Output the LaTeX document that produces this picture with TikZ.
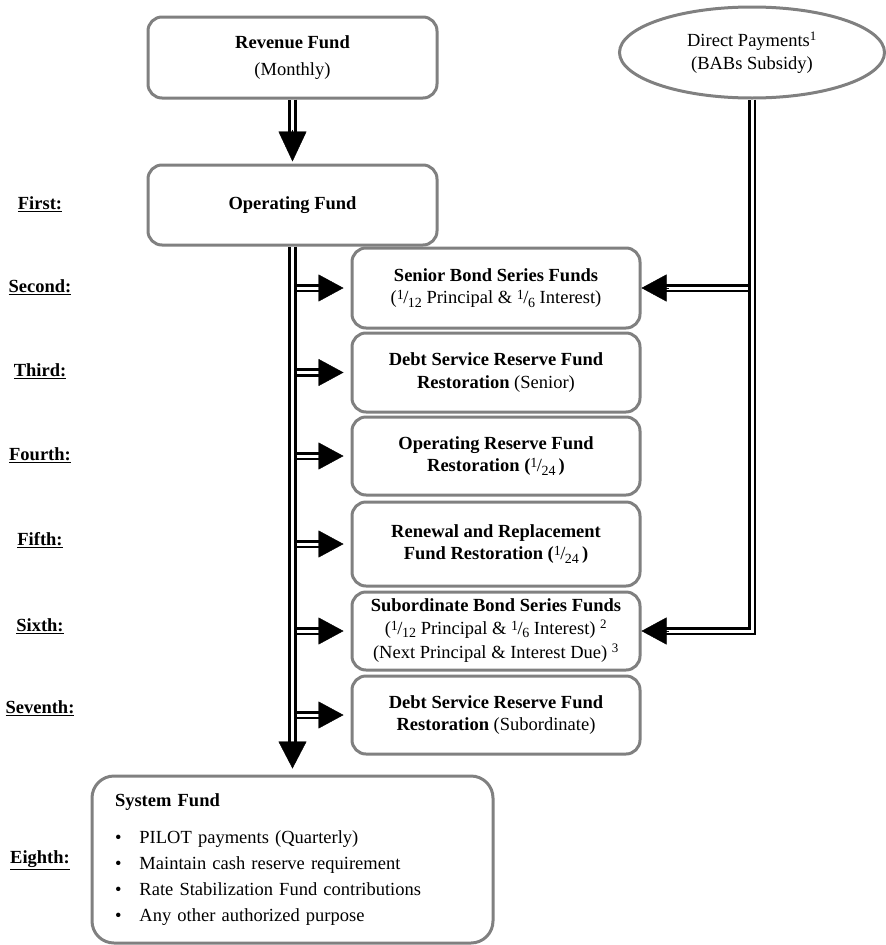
\documentclass[tikz,border=0pt]{standalone}
\usepackage{fontspec}
\setmainfont{Liberation Serif}
\usetikzlibrary{arrows.meta,shapes.geometric}
\newcommand{\slfrac}[2]{{\mdseries\raisebox{4pt}{\fontsize{14}{14}\selectfont#1}\kern-0.5pt/\kern-0.5pt\raisebox{-3.5pt}{\fontsize{14}{14}\selectfont#2}}}

\begin{document}
\begin{tikzpicture}[x=1pt, y=-1pt,
  every node/.style={font=\fontsize{18.5}{22.5}\selectfont},
  fund/.style={draw=black!50, line width=3pt, rounded corners=14pt, align=center, inner sep=2pt},
  tier/.style={font=\fontsize{18.5}{22.5}\selectfont\bfseries},
  pipe/.style={draw=black, line width=2.6pt, double=white, double distance=3pt},
  head/.style={-{Triangle[length=25pt,width=27pt]}, line width=0.4pt},
  bighead/.style={-{Triangle[length=30pt,width=28pt]}, line width=0.4pt}]
  \useasboundingbox (0,0) rectangle (886,945);

  \node[fund, minimum width=289pt, minimum height=81pt] (rev) at (292.5,57.5) {\textbf{Revenue Fund}\\[4pt](Monthly)};
  \node[fund, minimum width=289pt, minimum height=80pt] (opf) at (292.5,205) {\textbf{Operating Fund}};
  \node[draw=black!50, line width=3pt, ellipse, minimum width=265pt, minimum height=91pt, inner sep=0pt, align=center] (dpay) at (752,52.5) {Direct Payments\textsuperscript{1}\\(BABs Subsidy)};

  \node[fund, minimum width=288pt, minimum height=80pt] (sbsf) at (496,288) {\textbf{Senior Bond Series Funds}\\(\slfrac{1}{12} Principal \& \slfrac{1}{6} Interest)};
  \node[fund, minimum width=288pt, minimum height=79pt] (dsrf) at (496,372.5) {\textbf{Debt Service Reserve Fund}\\\textbf{Restoration} (Senior)};
  \node[fund, minimum width=288pt, minimum height=78pt] (orf) at (496,456) {\textbf{Operating Reserve Fund}\\\textbf{Restoration (\slfrac{1}{24}\,)}};
  \node[fund, minimum width=288pt, minimum height=84pt] (rrf) at (496,544) {\textbf{Renewal and Replacement}\\\textbf{Fund Restoration (\slfrac{1}{24}\,)}};
  \node[fund, minimum width=288pt, minimum height=78pt] (subf) at (496,631) {\textbf{Subordinate Bond Series Funds}\\(\slfrac{1}{12} Principal \& \slfrac{1}{6} Interest) \textsuperscript{2}\\[2pt](Next Principal \& Interest Due) \textsuperscript{3}};
  \node[fund, minimum width=288pt, minimum height=78pt] (dsrs) at (496,715) {\textbf{Debt Service Reserve Fund}\\\textbf{Restoration} (Subordinate)};

  \node[fund, align=left, text width=355pt, minimum height=167pt, inner xsep=23pt, rounded corners=22pt] (sysf) at (292.5,859.5) {\textbf{System Fund}\\[14.5pt]
    \textbullet\hspace{18pt}PILOT payments (Quarterly)\\[3.5pt]
    \textbullet\hspace{18pt}Maintain cash reserve requirement\\[3.5pt]
    \textbullet\hspace{18pt}Rate Stabilization Fund contributions\\[3.5pt]
    \textbullet\hspace{18pt}Any other authorized purpose};

  \node[tier] (t1) at (40,204) {\underline{First:}};
  \node[tier] (t2) at (40,287) {\underline{Second:}};
  \node[tier] (t3) at (40,371) {\underline{Third:}};
  \node[tier] (t4) at (40,455) {\underline{Fourth:}};
  \node[tier] (t5) at (40,540) {\underline{Fifth:}};
  \node[tier] (t6) at (40,626) {\underline{Sixth:}};
  \node[tier] (t7) at (40,708) {\underline{Seventh:}};
  \node[tier] (t8) at (40,860) {\underline{Eighth:}};

  \coordinate (trunk) at (296.6,0);
  \coordinate (feed) at (747.9,0);

  \draw[pipe, shorten >=30pt] (rev) -- (opf);
  \draw[bighead] ([yshift=34pt]opf.north) -- ([yshift=2pt]opf.north);
  \draw[pipe, shorten >=31pt] (opf) -- (sysf);
  \draw[bighead, -{Triangle[length=27pt,width=28pt]}] ([yshift=33pt]sysf.north) -- ([yshift=6pt]sysf.north);

  \draw[pipe, shorten >=30pt] (trunk |- sbsf.west) -- (sbsf.west);
  \draw[head] ([xshift=-32pt]sbsf.west) -- ([xshift=-7pt]sbsf.west);
  \draw[pipe, shorten >=30pt] (trunk |- dsrf.west) -- (dsrf.west);
  \draw[head] ([xshift=-32pt]dsrf.west) -- ([xshift=-7pt]dsrf.west);
  \draw[pipe, shorten >=30pt] (trunk |- orf.west) -- (orf.west);
  \draw[head] ([xshift=-32pt]orf.west) -- ([xshift=-7pt]orf.west);
  \draw[pipe, shorten >=30pt] (trunk |- rrf.west) -- (rrf.west);
  \draw[head] ([xshift=-32pt]rrf.west) -- ([xshift=-7pt]rrf.west);
  \draw[pipe, shorten >=30pt] (trunk |- subf.west) -- (subf.west);
  \draw[head] ([xshift=-32pt]subf.west) -- ([xshift=-7pt]subf.west);
  \draw[pipe, shorten >=30pt] (trunk |- dsrs.west) -- (dsrs.west);
  \draw[head] ([xshift=-32pt]dsrs.west) -- ([xshift=-7pt]dsrs.west);

  \draw[pipe, shorten >=23pt] (dpay.south) |- (subf.east);
  \draw[head] ([xshift=27pt]subf.east) -- (subf.east);
  \draw[pipe, shorten >=23pt] (feed |- sbsf.east) -- (sbsf.east);
  \draw[head] ([xshift=27pt]sbsf.east) -- (sbsf.east);
\end{tikzpicture}
\end{document}
